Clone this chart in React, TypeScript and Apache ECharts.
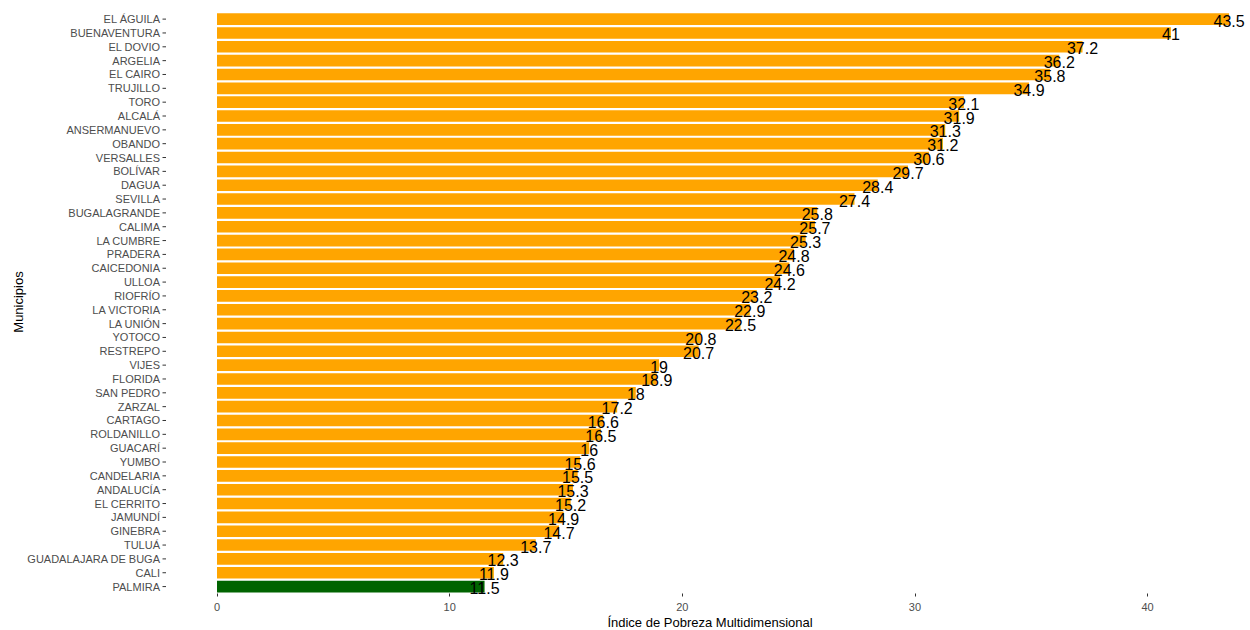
import React, { useEffect, useRef } from "react";
import * as echarts from "echarts";

const municipios = [
  "EL ÁGUILA", "BUENAVENTURA", "EL DOVIO", "ARGELIA", "EL CAIRO", "TRUJILLO", "TORO",
  "ALCALÁ", "ANSERMANUEVO", "OBANDO", "VERSALLES", "BOLÍVAR", "DAGUA", "SEVILLA",
  "BUGALAGRANDE", "CALIMA", "LA CUMBRE", "PRADERA", "CAICEDONIA", "ULLOA", "RIOFRÍO",
  "LA VICTORIA", "LA UNIÓN", "YOTOCO", "RESTREPO", "VIJES", "FLORIDA", "SAN PEDRO",
  "ZARZAL", "CARTAGO", "ROLDANILLO", "GUACARÍ", "YUMBO", "CANDELARIA", "ANDALUCÍA",
  "EL CERRITO", "JAMUNDÍ", "GINEBRA", "TULUÁ", "GUADALAJARA DE BUGA", "CALI", "PALMIRA",
];

const ipm = [
  43.5, 41, 37.2, 36.2, 35.8, 34.9, 32.1,
  31.9, 31.3, 31.2, 30.6, 29.7, 28.4, 27.4,
  25.8, 25.7, 25.3, 24.8, 24.6, 24.2, 23.2,
  22.9, 22.5, 20.8, 20.7, 19, 18.9, 18,
  17.2, 16.6, 16.5, 16, 15.6, 15.5, 15.3,
  15.2, 14.9, 14.7, 13.7, 12.3, 11.9, 11.5,
];

const highlighted = "PALMIRA";
const xTitle = "Índice de Pobreza Multidimensional";
const yTitle = "Municipios";

export default function App() {
  const ref = useRef<HTMLDivElement>(null);
  useEffect(() => {
    if (!ref.current) return;
    const chart = echarts.init(ref.current, undefined, { renderer: "svg" });
    const font = "'Liberation Sans', Arial, sans-serif";
    const axisGap = 51;
    chart.setOption({
      animation: false,
      backgroundColor: "#ffffff",
      textStyle: { fontFamily: font },
      grid: { left: 217, right: 0, top: 12.2, bottom: 630 - 593.5, containLabel: false },
      xAxis: {
        type: "value",
        min: 0,
        max: 44.4,
        interval: 10,
        axisLine: { show: false },
        axisTick: { show: true, length: 3, lineStyle: { color: "#333333" } },
        axisLabel: { color: "#4d4d4d", fontSize: 11, margin: 8, showMaxLabel: false, fontFamily: font },
        splitLine: { show: false },
      },
      yAxis: {
        type: "category",
        data: municipios,
        inverse: true,
        axisLine: { show: false },
        axisTick: { show: false },
        axisLabel: { color: "#4d4d4d", fontSize: 11, margin: axisGap + 6, interval: 0, fontFamily: font },
      },
      series: [
        {
          type: "bar",
          barWidth: "84%",
          data: ipm.map((v, i) => ({
            value: v,
            itemStyle: { color: municipios[i] === highlighted ? "#006400" : "#FFA500" },
          })),
          label: {
            show: true,
            position: ["100%", "50%"],
            align: "center",
            verticalAlign: "middle",
            offset: [0, 2],
            color: "#000000",
            fontSize: 16,
            fontFamily: font,
            formatter: (p: any) => String(p.value),
          },
        },
        {
          type: "custom",
          silent: true,
          clip: false,
          data: municipios.map((m) => [0, m]),
          renderItem: (params: any, api: any) => {
            const p = api.coord([0, api.value(1)]);
            const x = p[0] - axisGap;
            return {
              type: "line",
              shape: { x1: x - 3.5, y1: p[1], x2: x, y2: p[1] },
              style: { stroke: "#333333", lineWidth: 1 },
            };
          },
        },
      ],
      graphic: [
        {
          type: "text",
          x: 710,
          y: 622,
          style: {
            text: xTitle,
            fill: "#000000",
            fontSize: 13,
            fontFamily: font,
            align: "center",
            verticalAlign: "middle",
          },
        },
        {
          type: "text",
          x: 18,
          y: 302,
          rotation: Math.PI / 2,
          style: {
            text: yTitle,
            fill: "#000000",
            fontSize: 13,
            fontFamily: font,
            align: "center",
            verticalAlign: "middle",
          },
        },
      ],
    });
    return () => chart.dispose();
  }, []);
  return (
    <div
      ref={ref}
      style={{ position: "fixed", left: 0, top: 0, width: 1250, height: 630 }}
    />
  );
}
